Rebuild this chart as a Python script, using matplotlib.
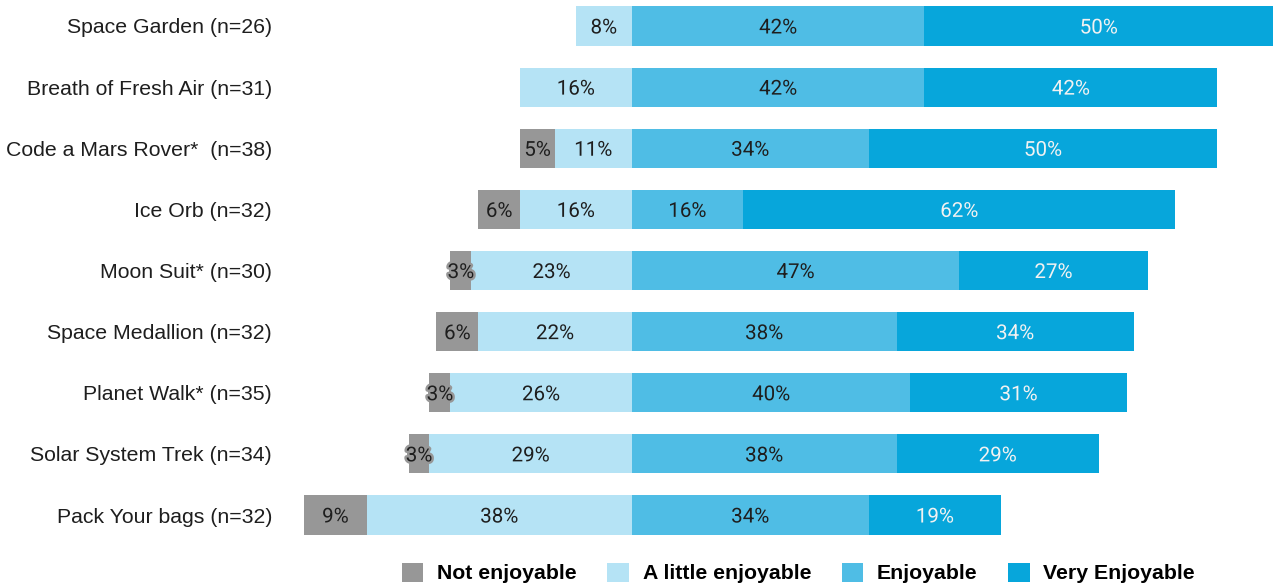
import matplotlib
matplotlib.use("Agg")
import matplotlib.pyplot as plt
import matplotlib.patheffects as pe
from matplotlib.patches import Patch

activities = [
    "Space Garden (n=26)",
    "Breath of Fresh Air (n=31)",
    "Code a Mars Rover*  (n=38)",
    "Ice Orb (n=32)",
    "Moon Suit* (n=30)",
    "Space Medallion (n=32)",
    "Planet Walk* (n=35)",
    "Solar System Trek (n=34)",
    "Pack Your bags (n=32)",
]
not_enjoyable = [0, 0, 5, 6, 3, 6, 3, 3, 9]
little_enjoyable = [8, 16, 11, 16, 23, 22, 26, 29, 38]
enjoyable = [42, 42, 34, 16, 47, 38, 40, 38, 34]
very_enjoyable = [50, 42, 50, 62, 27, 34, 31, 29, 19]

categories = ["Not enjoyable", "A little enjoyable", "Enjoyable", "Very Enjoyable"]
colors = ["#979797", "#b5e3f5", "#4fbde5", "#07a6db"]
text_colors = ["#1e1e1e", "#1e1e1e", "#1e1e1e", "#f2f2f2"]

fig = plt.figure(figsize=(12.77, 5.86), dpi=100)
ax = fig.add_axes([304 / 1277, 0.0794, 969 / 1277, 0.918])

ys = list(range(len(activities)))
bar_h = 0.64

# Negative side: segments stacked leftwards from zero
neg_outer = [-(a + b) for a, b in zip(not_enjoyable, little_enjoyable)]
neg_inner = [-b for b in little_enjoyable]
segments = [
    (not_enjoyable, neg_outer),
    (little_enjoyable, neg_inner),
    (enjoyable, [0] * len(ys)),
    (very_enjoyable, enjoyable),
]

for ci, (vals, lefts) in enumerate(segments):
    for y, v, l in zip(ys, vals, lefts):
        if v <= 0:
            continue
        ax.barh(y, v, left=l, height=bar_h, color=colors[ci], edgecolor="none")
        ax.text(l + v / 2, y, f"{v}%", ha="center", va="center_baseline",
                fontsize=14.8, family="Roboto", color=text_colors[ci],
                path_effects=[pe.withStroke(linewidth=3.5, foreground=colors[ci])])

ax.set_xlim(-47, 92)
ax.set_ylim(8.4, -0.4)
ax.set_yticks(ys)
ax.set_yticklabels(activities, family="Liberation Sans", fontsize=15.3, color="#1e1e1e")
ax.set_xticks([])
ax.tick_params(axis="y", length=0, pad=23)
for s in ax.spines.values():
    s.set_visible(False)

handles = [Patch(facecolor=c, edgecolor="none") for c in colors]
fig.legend(handles, categories, loc="center", bbox_to_anchor=(798.5 / 1277, 13 / 586),
           ncol=4, frameon=False, handlelength=1.0, handleheight=1.0,
           handletextpad=0.65, columnspacing=1.45,
           prop={"family": "Liberation Sans", "weight": "bold", "size": 15.3})

fig.savefig("out.png", dpi=100)
